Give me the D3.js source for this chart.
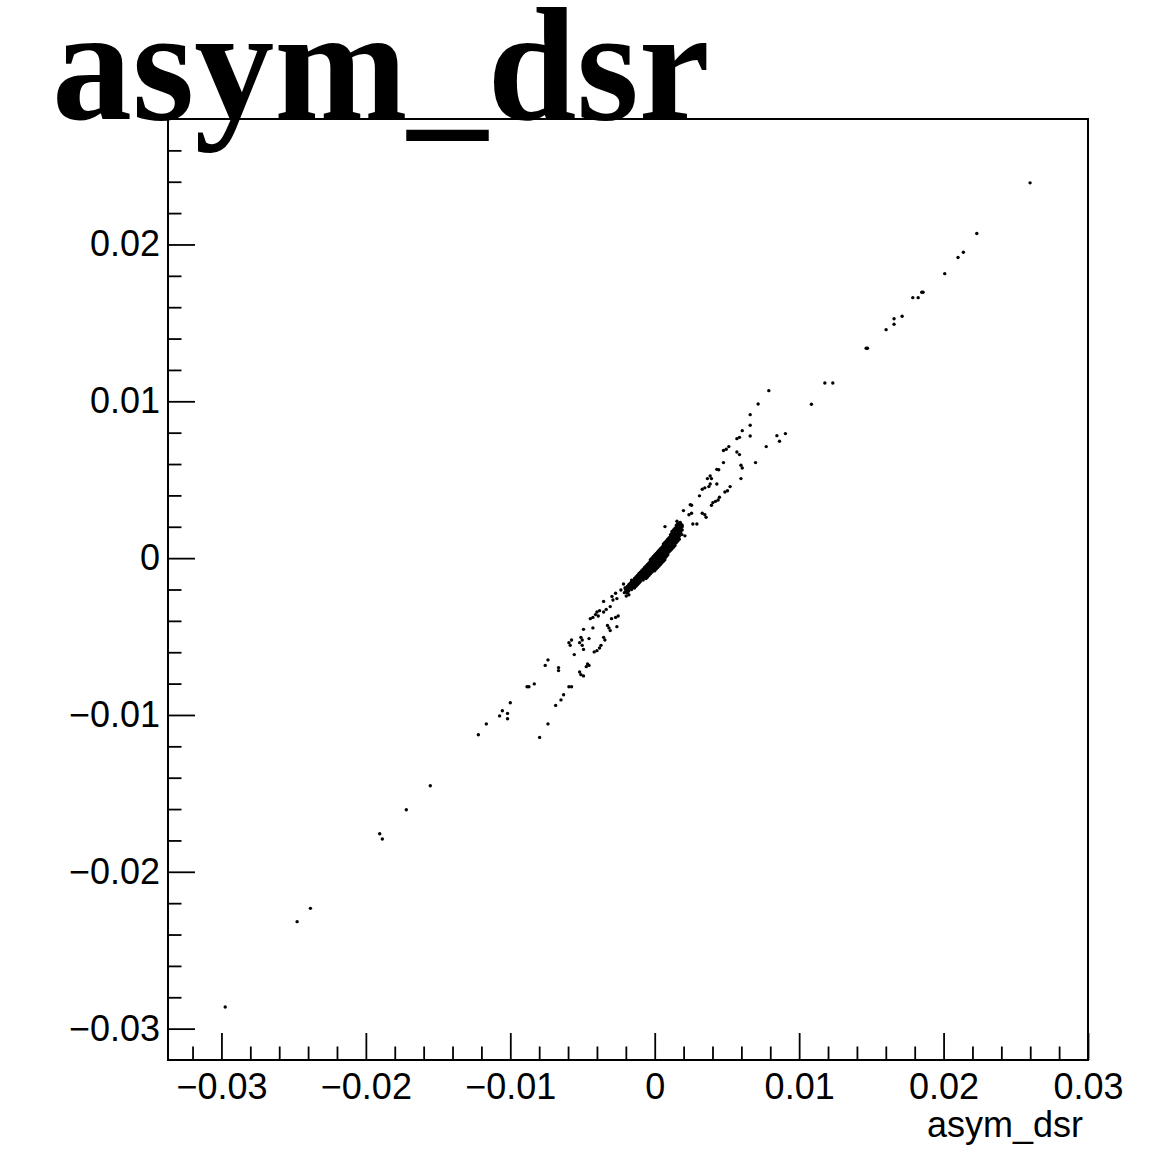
<!DOCTYPE html>
<html>
  <head>
    <meta charset="utf-8">
    <title>asym_dsr</title>
    <script src="https://d3js.org/d3.v7.min.js"></script>
    <style>
      body { margin: 0; background: #fff; }
      #chart { display: block; }
      .axis text { font-family: "Liberation Sans", Arial, sans-serif; font-size: 36px; fill: #000; }
      .axis path { display: none; }
      .axis line { stroke: #000; stroke-width: 1.8; }
      #title { font-family: "Liberation Serif", "Times New Roman", serif; font-weight: bold; font-size: 160px; }
    </style>
  </head>
  <body>
    <svg id="chart" width="1167" height="1157"></svg>
    <script>
      // axis settings
      var xDomain = [-0.0337, 0.03];
      var yDomain = [-0.032, 0.028];
      var xMajor = [-0.03, -0.02, -0.01, 0, 0.01, 0.02, 0.03];
      var yMajor = [-0.03, -0.02, -0.01, 0, 0.01, 0.02];
      var xMinor = [-0.032, -0.028, -0.026, -0.024, -0.022, -0.018, -0.016, -0.014, -0.012,
                    -0.008, -0.006, -0.004, -0.002, 0.002, 0.004, 0.006, 0.008, 0.012, 0.014,
                    0.016, 0.018, 0.022, 0.024, 0.026, 0.028];
      var yMinor = [-0.028, -0.026, -0.024, -0.022, -0.018, -0.016, -0.014, -0.012,
                    -0.008, -0.006, -0.004, -0.002, 0.002, 0.004, 0.006, 0.008, 0.012, 0.014,
                    0.016, 0.018, 0.022, 0.024, 0.026];

      // long tails of the scatter [x, y]
      var upperTail = [
        [0.02599, 0.02393], [0.02230, 0.02070], [0.02137, 0.01950], [0.02100, 0.01917],
        [0.02008, 0.01814], [0.01858, 0.01695], [0.01849, 0.01695], [0.01824, 0.01661],
        [0.01787, 0.01661], [0.01713, 0.01542], [0.01657, 0.01526], [0.01657, 0.01491],
        [0.01602, 0.01457], [0.01464, 0.01338], [0.01473, 0.01338], [0.01233, 0.01117],
        [0.01178, 0.01117], [0.01085, 0.00981]
      ];
      var lowerTail = [
        [-0.01554, -0.01451], [-0.01720, -0.01604], [-0.01904, -0.01757], [-0.01886, -0.01791],
        [-0.02384, -0.02233], [-0.02476, -0.02318], [-0.02974, -0.02862]
      ];
      // scattered points around the core
      var upperSpread = [
        [0.00790, 0.01068], [0.00716, 0.00983], [0.00661, 0.00915], [0.00661, 0.00847],
        [0.00661, 0.00779], [0.00606, 0.00813], [0.00569, 0.00762], [0.00587, 0.00770],
        [0.00846, 0.00781], [0.00864, 0.00745], [0.00905, 0.00794], [0.00772, 0.00711],
        [0.00698, 0.00609], [0.00513, 0.00711], [0.00476, 0.00686], [0.00495, 0.00694],
        [0.00569, 0.00677], [0.00587, 0.00660], [0.00476, 0.00609], [0.00597, 0.00592],
        [0.00606, 0.00575], [0.00430, 0.00566], [0.00443, 0.00564], [0.00384, 0.00524],
        [0.00365, 0.00507], [0.00393, 0.00507], [0.00597, 0.00507], [0.00384, 0.00473],
        [0.00375, 0.00456], [0.00329, 0.00439], [0.00347, 0.00448], [0.00430, 0.00473],
        [0.00522, 0.00456], [0.00504, 0.00430], [0.00486, 0.00422], [0.00310, 0.00397],
        [0.00448, 0.00388], [0.00439, 0.00371], [0.00403, 0.00354], [0.00421, 0.00362],
        [0.00393, 0.00337], [0.00255, 0.00337], [0.00199, 0.00303], [0.00237, 0.00277],
        [0.00255, 0.00286], [0.00347, 0.00277], [0.00356, 0.00260], [0.00264, 0.00218],
        [0.00292, 0.00218], [0.00071, 0.00201], [0.00329, 0.00286], [0.00209, 0.00142],
        [0.00246, 0.00341], [0.00154, 0.00235], [0.00176, 0.00228], [0.00188, 0.00150]
      ];
      var lowerSpread = [
        [-0.00739, -0.00649], [-0.00758, -0.00684], [-0.00666, -0.00698], [-0.00666, -0.00717],
        [-0.00884, -0.00820], [-0.00871, -0.00820], [-0.00834, -0.00802], [-0.00594, -0.00820],
        [-0.00576, -0.00820], [-0.01000, -0.00922], [-0.01055, -0.00973], [-0.01019, -0.00990],
        [-0.01074, -0.01006], [-0.01019, -0.01024], [-0.01166, -0.01057], [-0.01221, -0.01126],
        [-0.00631, -0.00871], [-0.00649, -0.00904], [-0.00686, -0.00939], [-0.00739, -0.01057],
        [-0.00797, -0.01143],
        [-0.00216, -0.00165], [-0.00206, -0.00190], [-0.00192, -0.00207], [-0.00234, -0.00203],
        [-0.00271, -0.00224], [-0.00262, -0.00258], [-0.00197, -0.00241], [-0.00179, -0.00233],
        [-0.00289, -0.00267], [-0.00336, -0.00327], [-0.00308, -0.00309], [-0.00354, -0.00343],
        [-0.00400, -0.00343], [-0.00382, -0.00335], [-0.00410, -0.00360], [-0.00391, -0.00369],
        [-0.00446, -0.00386], [-0.00428, -0.00378], [-0.00299, -0.00386], [-0.00271, -0.00378],
        [-0.00253, -0.00369], [-0.00493, -0.00454], [-0.00428, -0.00445], [-0.00327, -0.00429],
        [-0.00317, -0.00445], [-0.00262, -0.00437], [-0.00308, -0.00462], [-0.00576, -0.00522],
        [-0.00594, -0.00539], [-0.00585, -0.00556], [-0.00511, -0.00505], [-0.00502, -0.00522],
        [-0.00520, -0.00539], [-0.00455, -0.00513], [-0.00557, -0.00615], [-0.00502, -0.00556],
        [-0.00493, -0.00582], [-0.00382, -0.00573], [-0.00372, -0.00556], [-0.00345, -0.00522],
        [-0.00354, -0.00505], [-0.00419, -0.00598], [-0.00400, -0.00590], [-0.00465, -0.00675],
        [-0.00455, -0.00684], [-0.00474, -0.00692], [-0.00520, -0.00726], [-0.00511, -0.00743],
        [-0.00493, -0.00751], [-0.00296, -0.00244], [-0.00354, -0.00276]
      ];
      // dense core, one row per y value: [y, [x, x, ...]]
      var coreRows = [
        [-0.0022, [-0.0021, -0.0019]],
        [-0.0021, [-0.0020, -0.0018]],
        [-0.0020, [-0.0020, -0.0018, -0.0016]],
        [-0.0019, [-0.0020, -0.0018, -0.0016, -0.0014]],
        [-0.0018, [-0.0019, -0.0017, -0.0015, -0.0013]],
        [-0.0017, [-0.0018, -0.0016, -0.0014, -0.0012]],
        [-0.0016, [-0.0017, -0.0015, -0.0013, -0.0011]],
        [-0.0015, [-0.0016, -0.0014, -0.0012, -0.0010]],
        [-0.0014, [-0.0016, -0.0014, -0.0012, -0.0010, -0.0008]],
        [-0.0013, [-0.0014, -0.0012, -0.0010, -0.0008, -0.0006]],
        [-0.0012, [-0.0013, -0.0011, -0.0009, -0.0007, -0.0005]],
        [-0.0011, [-0.0012, -0.0010, -0.0008, -0.0006, -0.0004]],
        [-0.0010, [-0.0011, -0.0009, -0.0007, -0.0005, -0.0003]],
        [-0.0009, [-0.0010, -0.0008, -0.0006, -0.0004, -0.0002]],
        [-0.0008, [-0.0009, -0.0007, -0.0005, -0.0003, -0.0001, 0.0000]],
        [-0.0007, [-0.0008, -0.0006, -0.0004, -0.0002, 0.0000, 0.0001]],
        [-0.0006, [-0.0007, -0.0005, -0.0003, -0.0001, 0.0001, 0.0002]],
        [-0.0005, [-0.0006, -0.0004, -0.0002, 0.0000, 0.0002, 0.0003]],
        [-0.0004, [-0.0005, -0.0003, -0.0001, 0.0001, 0.0003, 0.0004]],
        [-0.0003, [-0.0004, -0.0002, 0.0000, 0.0002, 0.0004, 0.0005]],
        [-0.0002, [-0.0003, -0.0001, 0.0001, 0.0003, 0.0005, 0.0006]],
        [-0.0001, [-0.0003, -0.0001, 0.0001, 0.0003, 0.0005, 0.0007]],
        [0.0000, [-0.0002, 0.0000, 0.0002, 0.0004, 0.0006, 0.0007]],
        [0.0001, [-0.0001, 0.0001, 0.0003, 0.0005, 0.0007, 0.0008]],
        [0.0002, [0.0000, 0.0002, 0.0004, 0.0006, 0.0008, 0.0009]],
        [0.0003, [0.0001, 0.0003, 0.0005, 0.0007, 0.0009]],
        [0.0004, [0.0002, 0.0004, 0.0006, 0.0008, 0.0010]],
        [0.0005, [0.0003, 0.0005, 0.0007, 0.0009, 0.0011]],
        [0.0006, [0.0004, 0.0006, 0.0008, 0.0010, 0.0012]],
        [0.0007, [0.0005, 0.0007, 0.0009, 0.0011, 0.0013]],
        [0.0008, [0.0006, 0.0008, 0.0010, 0.0012, 0.0014]],
        [0.0009, [0.0006, 0.0008, 0.0010, 0.0012, 0.0014]],
        [0.0010, [0.0007, 0.0009, 0.0011, 0.0013, 0.0015]],
        [0.0011, [0.0008, 0.0010, 0.0012, 0.0014, 0.0016]],
        [0.0012, [0.0009, 0.0011, 0.0013, 0.0015, 0.0017]],
        [0.0013, [0.0010, 0.0012, 0.0014, 0.0016]],
        [0.0014, [0.0011, 0.0013, 0.0015, 0.0017]],
        [0.0015, [0.0011, 0.0013, 0.0015, 0.0017]],
        [0.0016, [0.0012, 0.0014, 0.0016, 0.0018]],
        [0.0017, [0.0012, 0.0014, 0.0016, 0.0018]],
        [0.0018, [0.0013, 0.0015, 0.0017, 0.0019]],
        [0.0019, [0.0014, 0.0016, 0.0018]],
        [0.0020, [0.0015, 0.0017, 0.0019]],
        [0.0021, [0.0015, 0.0017, 0.0019]],
        [0.0022, [0.0016, 0.0018]]
      ];

      var margin = { top: 119, right: 79, bottom: 97, left: 168 };
      var W = 1167, H = 1157;
      var chart = d3.select("#chart");
      chart.append("rect").attr("width", W).attr("height", H).attr("fill", "#fff");

      var x = d3.scaleLinear().domain(xDomain).range([margin.left, W - margin.right]);
      var y = d3.scaleLinear().domain(yDomain).range([H - margin.bottom, margin.top]);

      function fmt(d) {
        if (Math.abs(d) < 1e-12) return "0";
        return d3.format(".2f")(d);
      }

      // points
      var core = [];
      coreRows.forEach(function(r) { r[1].forEach(function(v) { core.push([v, r[0]]); }); });
      var allPts = upperTail.concat(lowerTail, upperSpread, lowerSpread, core);
      chart.append("g").attr("id", "points")
        .selectAll("circle")
          .data(allPts)
        .enter().append("circle")
          .attr("cx", function(d) { return x(d[0]); })
          .attr("cy", function(d) { return y(d[1]); })
          .attr("r", 1.7)
          .attr("fill", "#000");

      // axes, ticks pointing into the frame
      var xBottom = H - margin.bottom;
      chart.append("g").attr("class", "axis")
        .attr("transform", "translate(0," + xBottom + ")")
        .call(d3.axisBottom(x).tickValues(xMinor).tickSize(-13.5).tickFormat(""));
      chart.append("g").attr("class", "axis")
        .attr("transform", "translate(0," + xBottom + ")")
        .call(d3.axisBottom(x).tickValues(xMajor).tickSize(-27).tickPadding(13).tickFormat(fmt));
      chart.append("g").attr("class", "axis")
        .attr("transform", "translate(" + margin.left + ",0)")
        .call(d3.axisLeft(y).tickValues(yMinor).tickSize(-13.5).tickFormat(""));
      chart.append("g").attr("class", "axis")
        .attr("transform", "translate(" + margin.left + ",0)")
        .call(d3.axisLeft(y).tickValues(yMajor).tickSize(-27).tickPadding(8).tickFormat(fmt));

      // frame
      chart.append("rect")
        .attr("x", margin.left)
        .attr("y", margin.top)
        .attr("width", W - margin.left - margin.right)
        .attr("height", H - margin.top - margin.bottom)
        .attr("fill", "none")
        .attr("stroke", "#000")
        .attr("stroke-width", 2);

      // axis title
      chart.append("text")
        .attr("class", "axis")
        .attr("x", 1083)
        .attr("y", 1137)
        .attr("text-anchor", "end")
        .style("font-family", "'Liberation Sans', Arial, sans-serif")
        .style("font-size", "36px")
        .text("asym_dsr");

      // big title
      chart.append("text")
        .attr("id", "title")
        .attr("x", 52)
        .attr("y", 119)
        .text("asym_dsr");
    </script>
  </body>
</html>
